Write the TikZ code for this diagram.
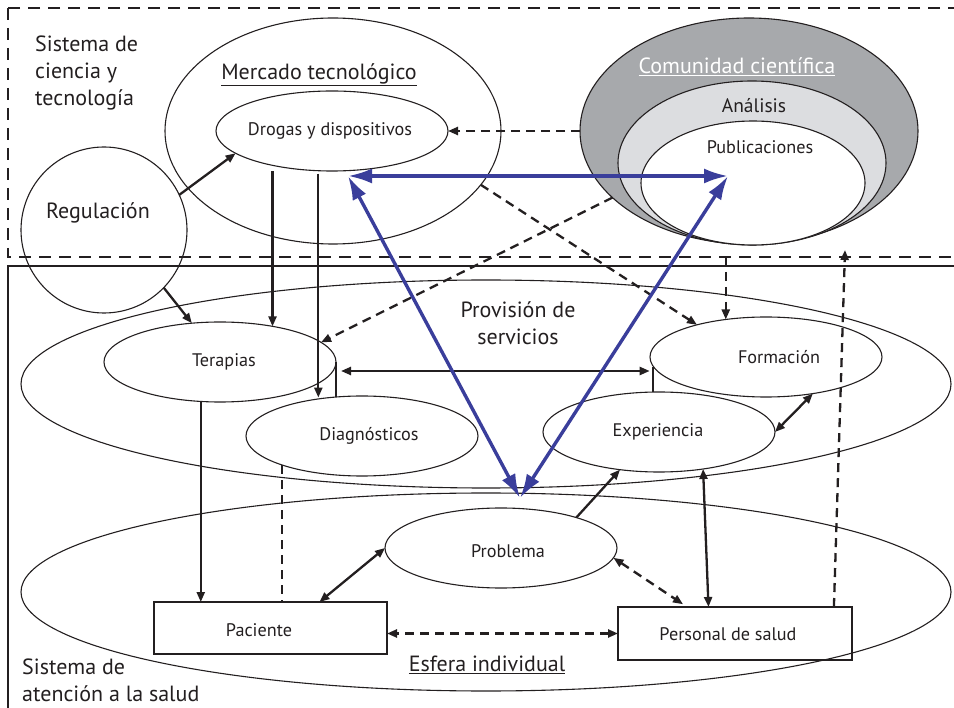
\documentclass[tikz,border=0pt]{standalone}
\usepackage{fontspec}
\setmainfont{PT Sans}
\usetikzlibrary{shapes.geometric,arrows.meta,calc}
\definecolor{ink}{RGB}{35,31,32}
\definecolor{arrowblue}{RGB}{58,62,155}
\definecolor{comgray}{RGB}{167,169,172}
\definecolor{anagray}{RGB}{220,221,224}
\tikzset{
  bluetip/.tip={Latex[length=24pt,width=15pt]},
  blacktip/.tip={Triangle[length=10pt,width=8pt]},
}
\begin{document}
\begin{tikzpicture}[x=1pt,y=-1pt,
  >=blacktip,
  ell/.style={ellipse, draw=ink, line width=1.1pt, inner sep=0pt, outer sep=0pt},
  box/.style={rectangle, draw=ink, line width=1.1pt, inner sep=0pt, outer sep=0pt},
  big/.style={font=\fontsize{22}{27}\selectfont, text=ink, inner sep=0pt},
  mid/.style={font=\fontsize{19.5}{23}\selectfont, text=ink, inner sep=0pt},
  small/.style={font=\fontsize{18.2}{21}\selectfont, text=ink, inner sep=0pt},
  link/.style={draw=ink, line width=2.3pt},
  dlink/.style={draw=ink, line width=2.3pt, dash pattern=on 9pt off 6pt},
  bluelink/.style={draw=arrowblue, line width=3.4pt, bluetip-bluetip},
  frame/.style={draw=ink, line width=2.2pt},
]
\useasboundingbox (0,0) rectangle (954,708);
\clip (0,0) rectangle (954,708);

% system frames
\coordinate (cyt-nw) at (8,8);
\coordinate (cyt-se) at (975,257);
\coordinate (sal-nw) at (8,266);
\coordinate (sal-se) at (975,730);
\draw[frame, dash pattern=on 12pt off 8pt] (cyt-nw) rectangle (cyt-se);
\draw[frame] (sal-nw) rectangle (sal-se);
\node[big, align=left, anchor=west] at (35,73) {Sistema de\\ciencia y\\tecnología};
\node[big, align=left, anchor=west] at (22,680) {Sistema de\\atención a la salud};

% science and technology
\node[ell, minimum width=166pt, minimum height=166pt] (reg) at (104,230) {};
\node[big] at (98,213) {Regulación};
\node[ell, minimum width=336pt, minimum height=226pt] (merc) at (333,131) {};
\node[big] at (319,75) {\underline{Mercado tecnológico}};
\node[ell, minimum width=232pt, minimum height=80pt] (drogas) at (332,131) {};
\node[small] at (330,131) {Drogas y dispositivos};

\node[ell, fill=comgray, minimum width=338pt, minimum height=226pt] (com) at (749,131) {};
\node[ell, fill=anagray, minimum width=268pt, minimum height=164pt] (ana) at (752,163) {};
\node[ell, fill=white, minimum width=224pt, minimum height=124pt] (pub) at (753,183) {};
\node[big, text=white] at (737,67) {\underline{Comunidad científica}};
\node[mid] at (754,106) {Análisis};
\node[small] at (760,147) {Publicaciones};

% provision of services
\node[ell, minimum width=930pt, minimum height=208pt] (prov) at (486,384) {};
\node[big, align=center] at (518,323) {Provisión de\\servicios};
\node[ell, minimum width=232pt, minimum height=80pt] (terapias) at (220,362) {};
\node[small] at (224,362) {Terapias};
\node[ell, minimum width=232pt, minimum height=80pt] (diag) at (362,436) {};
\node[small] at (369,436) {Diagnósticos};
\node[ell, minimum width=232pt, minimum height=80pt] (form) at (766,357) {};
\node[small] at (779,357) {Formación};
\node[ell, minimum width=232pt, minimum height=80pt] (exp) at (659,432) {};
\node[small] at (658,432) {Experiencia};

% individual sphere
\node[ell, minimum width=930pt, minimum height=198pt] (esf) at (486,592) {};
\node[big] at (487,665) {\underline{Esfera individual}};
\node[ell, minimum width=232pt, minimum height=80pt] (prob) at (501,548) {};
\node[small] at (508,551) {Problema};
\node[box, minimum width=233pt, minimum height=52pt] (pac) at (270.5,628) {};
\node[small] at (259,630) {Paciente};
\node[box, minimum width=234pt, minimum height=53pt] (pers) at (735,633.5) {};
\node[small] at (728,634) {Personal de salud};

% connectors
\draw[link,->] (reg.25) -- (drogas.193);
\draw[link,->] (reg.-44) -- (terapias.126);
\draw[link,->, shorten <=6pt] (drogas.-150) -- (drogas.-150 |- terapias.34);
\draw[link,->, shorten <=3pt] (drogas.-109) -- (drogas.-109 |- diag.130);
\draw[dlink,->] (com.west) -- (drogas.east);
\draw[dlink,->] (merc.-20) -- (form.155);
\draw[dlink,->] (com.-154) -- (terapias.11);
\draw[dlink,->] (form.137 |- cyt-se) -- (form.137);
\coordinate (psup) at (845,250);
\draw[dlink,->] (pers.15) -- (psup);

\draw[link] (terapias.east) -- (terapias.east |- diag.124);
\draw[link] (exp.99 |- form.-175) -- (exp.99);
\draw[link,<->, shorten <=5pt, shorten >=3pt] ([yshift=-9pt]terapias.east) -- ([yshift=-9pt]terapias.east -| exp.99);

\draw[link,<->] (exp.east) -- (form.-38);
\draw[link,->] (prob.22) -- (exp.-136);
\draw[link,<->] (exp.-40) -- (pers.135);
\draw[dlink,<->, shorten >=5pt] (prob.-5) -- (pers.151);
\draw[dlink,<->] (pers.west) -- (pers.west -| pac.east);
\draw[link,<->] (prob.west) -- (pac.28);
\draw[link,->] (terapias.-116) -- (terapias.-116 |- pac.north);
\draw[dlink] (diag.-160) -- (diag.-160 |- pac.north);

% blue triangle of knowledge flow
\coordinate (tl) at (348,176);
\coordinate (tr) at (728,176);
\coordinate (bt) at (520,498);
\draw[bluelink] (tl) -- (tr);
\draw[bluelink] (tl) -- (bt);
\draw[bluelink] (tr) -- (bt);
\end{tikzpicture}
\end{document}
